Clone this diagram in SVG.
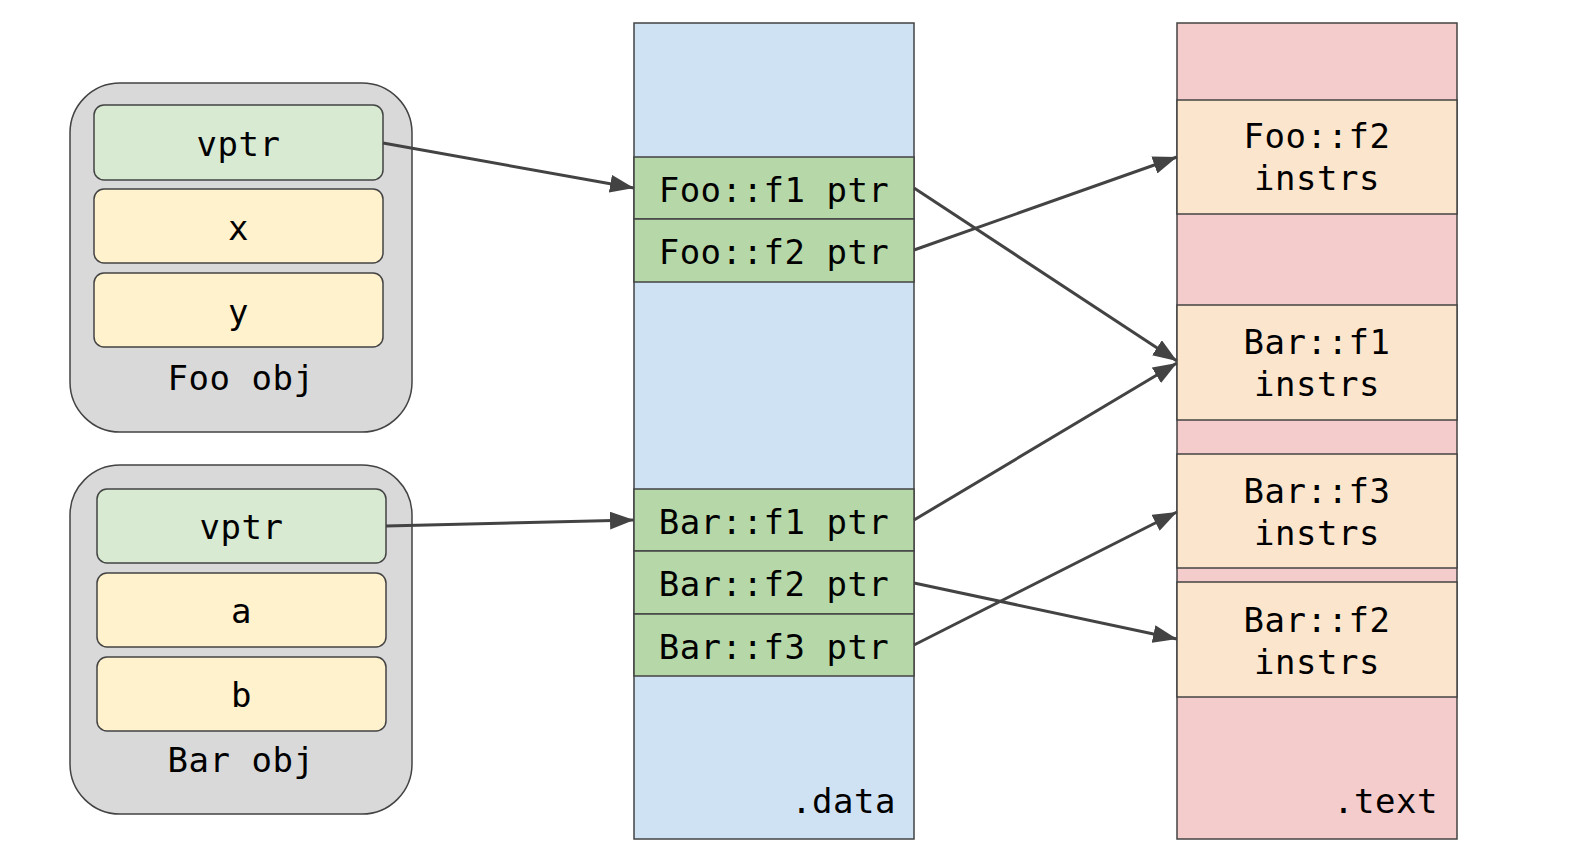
<svg xmlns="http://www.w3.org/2000/svg" width="1570" height="855" viewBox="0 0 1570 855">
<style>
text{font-family:"DejaVu Sans Mono","Liberation Mono",monospace;font-size:34px;letter-spacing:0.5px;fill:#000;text-anchor:middle}
.obj{fill:#d9d9d9;stroke:#434343;stroke-width:1.5}
.vp{fill:#d9ead3;stroke:#434343;stroke-width:1.5}
.fld{fill:#fff2cc;stroke:#434343;stroke-width:1.5}
.data{fill:#cfe2f3;stroke:#434343;stroke-width:1.5}
.ptr{fill:#b6d7a8;stroke:#434343;stroke-width:1.5}
.txt{fill:#f4cccc;stroke:#434343;stroke-width:1.5}
.ins{fill:#fce5cd;stroke:#434343;stroke-width:1.5}
.c{fill:none;stroke:#434343;stroke-width:3}
</style>
<defs>
<marker id="ah" markerUnits="userSpaceOnUse" markerWidth="26" markerHeight="18" refX="24" refY="9" orient="auto">
<path d="M0,0 L24,9 L0,18 Z" fill="#434343"/>
</marker>
</defs>
<g id="foo-obj">
<rect class="obj" x="70" y="83" width="342" height="349" rx="50"/>
<rect class="vp" x="94" y="105" width="289" height="75" rx="10"/>
<text x="238.5" y="156">vptr</text>
<rect class="fld" x="94" y="189" width="289" height="74" rx="10"/>
<text x="238.5" y="240">x</text>
<rect class="fld" x="94" y="273" width="289" height="74" rx="10"/>
<text x="238.5" y="324">y</text>
<text x="241" y="390">Foo obj</text>
</g>
<g id="bar-obj">
<rect class="obj" x="70" y="465" width="342" height="349" rx="50"/>
<rect class="vp" x="97" y="489" width="289" height="74" rx="10"/>
<text x="241.5" y="539">vptr</text>
<rect class="fld" x="97" y="573" width="289" height="74" rx="10"/>
<text x="241.5" y="623">a</text>
<rect class="fld" x="97" y="657" width="289" height="74" rx="10"/>
<text x="241.5" y="707">b</text>
<text x="241" y="772">Bar obj</text>
</g>
<g id="data-section">
<rect class="data" x="634" y="23" width="280" height="816"/>
<text x="896" y="813" style="text-anchor:end">.data</text>
</g>
<g id="foo-f1-ptr">
<rect class="ptr" x="634" y="157" width="280" height="62"/>
<text x="774" y="202">Foo::f1 ptr</text>
</g>
<g id="foo-f2-ptr">
<rect class="ptr" x="634" y="219" width="280" height="63"/>
<text x="774" y="264">Foo::f2 ptr</text>
</g>
<g id="bar-f1-ptr">
<rect class="ptr" x="634" y="489" width="280" height="62"/>
<text x="774" y="534">Bar::f1 ptr</text>
</g>
<g id="bar-f2-ptr">
<rect class="ptr" x="634" y="551" width="280" height="63"/>
<text x="774" y="596">Bar::f2 ptr</text>
</g>
<g id="bar-f3-ptr">
<rect class="ptr" x="634" y="614" width="280" height="62"/>
<text x="774" y="659">Bar::f3 ptr</text>
</g>
<g id="text-section">
<rect class="txt" x="1177" y="23" width="280" height="816"/>
<text x="1438" y="813" style="text-anchor:end">.text</text>
</g>
<g id="foo-f2-instrs">
<rect class="ins" x="1177" y="100" width="280" height="114"/>
<text x="1317" y="148">Foo::f2</text>
<text x="1317" y="190">instrs</text>
</g>
<g id="bar-f1-instrs">
<rect class="ins" x="1177" y="305" width="280" height="115"/>
<text x="1317" y="354">Bar::f1</text>
<text x="1317" y="396">instrs</text>
</g>
<g id="bar-f3-instrs">
<rect class="ins" x="1177" y="454" width="280" height="114"/>
<text x="1317" y="503">Bar::f3</text>
<text x="1317" y="545">instrs</text>
</g>
<g id="bar-f2-instrs">
<rect class="ins" x="1177" y="582" width="280" height="115"/>
<text x="1317" y="632">Bar::f2</text>
<text x="1317" y="674">instrs</text>
</g>
<g id="connectors">
<line class="c" x1="383" y1="143" x2="634" y2="188" marker-end="url(#ah)"/>
<line class="c" x1="914" y1="188" x2="1177" y2="361" marker-end="url(#ah)"/>
<line class="c" x1="914" y1="250" x2="1177" y2="157" marker-end="url(#ah)"/>
<line class="c" x1="386" y1="526" x2="634" y2="520" marker-end="url(#ah)"/>
<line class="c" x1="914" y1="520" x2="1177" y2="363" marker-end="url(#ah)"/>
<line class="c" x1="914" y1="583" x2="1177" y2="639" marker-end="url(#ah)"/>
<line class="c" x1="914" y1="645" x2="1177" y2="512" marker-end="url(#ah)"/>
</g>
</svg>
